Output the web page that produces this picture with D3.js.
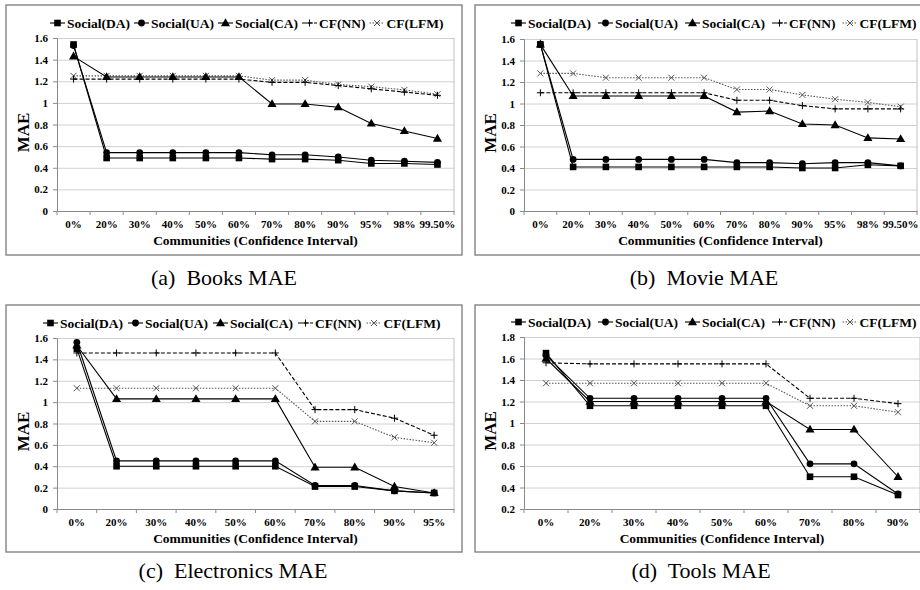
<!DOCTYPE html>
<html>
<head>
<meta charset="utf-8">
<script src="https://cdn.jsdelivr.net/npm/d3@7"></script>
<style>
  html, body { margin: 0; padding: 0; background: #fff; overflow: hidden; }
  svg { display: block; font-family: "Liberation Serif", "Times New Roman", serif; }
</style>
</head>
<body>
<svg id="chart" width="920" height="590"></svg>
<script>
// MAE per community confidence interval, four datasets, five methods each.

const SERIES = ['Social(DA)', 'Social(UA)', 'Social(CA)', 'CF(NN)', 'CF(LFM)'];

const catsBooks = ['0%','20%','30%','40%','50%','60%','70%','80%','90%','95%','98%','99.50%'];
const booksDA  = [1.54,0.49,0.49,0.49,0.49,0.49,0.48,0.48,0.47,0.44,0.44,0.43];
const booksUA  = [1.53,0.54,0.54,0.54,0.54,0.54,0.52,0.52,0.50,0.47,0.46,0.45];
const booksCA  = [1.43,1.24,1.24,1.24,1.24,1.24,0.99,0.99,0.96,0.81,0.74,0.67];
const booksNN  = [1.22,1.22,1.22,1.22,1.22,1.22,1.19,1.19,1.16,1.13,1.10,1.07];
const booksLFM = [1.25,1.25,1.25,1.25,1.25,1.25,1.21,1.21,1.17,1.15,1.12,1.08];

const catsMovie = ['0%','20%','30%','40%','50%','60%','70%','80%','90%','95%','98%','99.50%'];
const movieDA  = [1.55,0.41,0.41,0.41,0.41,0.41,0.41,0.41,0.40,0.40,0.43,0.42];
const movieUA  = [1.55,0.48,0.48,0.48,0.48,0.48,0.45,0.45,0.44,0.45,0.45,0.42];
const movieCA  = [1.55,1.07,1.07,1.07,1.07,1.07,0.92,0.93,0.81,0.80,0.68,0.67];
const movieNN  = [1.10,1.10,1.10,1.10,1.10,1.10,1.03,1.03,0.98,0.95,0.95,0.95];
const movieLFM = [1.28,1.28,1.24,1.24,1.24,1.24,1.13,1.13,1.08,1.04,1.01,0.97];

const catsElec = ['0%','20%','30%','40%','50%','60%','70%','80%','90%','95%'];
const elecDA  = [1.50,0.40,0.40,0.40,0.40,0.40,0.21,0.21,0.17,0.15];
const elecUA  = [1.56,0.45,0.45,0.45,0.45,0.45,0.22,0.22,0.17,0.15];
const elecCA  = [1.53,1.03,1.03,1.03,1.03,1.03,0.39,0.39,0.21,0.15];
const elecNN  = [1.46,1.46,1.46,1.46,1.46,1.46,0.93,0.93,0.85,0.69];
const elecLFM = [1.13,1.13,1.13,1.13,1.13,1.13,0.82,0.82,0.67,0.62];

const catsTools = ['0%','20%','30%','40%','50%','60%','70%','80%','90%'];
const toolsDA  = [1.65,1.16,1.16,1.16,1.16,1.16,0.50,0.50,0.33];
const toolsUA  = [1.63,1.23,1.23,1.23,1.23,1.23,0.62,0.62,0.34];
const toolsCA  = [1.60,1.20,1.20,1.20,1.20,1.20,0.94,0.94,0.50];
const toolsNN  = [1.56,1.55,1.55,1.55,1.55,1.55,1.23,1.23,1.18];
const toolsLFM = [1.37,1.37,1.37,1.37,1.37,1.37,1.16,1.16,1.10];

const yTicks16 = [0, 0.2, 0.4, 0.6, 0.8, 1, 1.2, 1.4, 1.6];
const yTicks18 = [0.2, 0.4, 0.6, 0.8, 1, 1.2, 1.4, 1.6, 1.8];

const captions = ['(a)  Books MAE', '(b)  Movie MAE', '(c)  Electronics MAE', '(d)  Tools MAE'];

// ── styles per series ─────────────────────────────────────────
const STYLE = [
  { stroke: '#000', dash: null,  marker: 'square'   },
  { stroke: '#000', dash: null,  marker: 'circle'   },
  { stroke: '#000', dash: null,  marker: 'triangle' },
  { stroke: '#000', dash: '4,2', marker: 'plus'     },
  { stroke: '#555', dash: '1.5,1.5', marker: 'cross' }
];

// ── panel layout ──────────────────────────────────────────────
const panels = [
  { cats: catsBooks, series: [booksDA, booksUA, booksCA, booksNN, booksLFM], yTicks: yTicks16, caption: captions[0],
    box: [6, 5, 462, 255], plot: [57, 38, 454, 211], legend: [50, 23, 4], capX: 224, capY: 285 },
  { cats: catsMovie, series: [movieDA, movieUA, movieCA, movieNN, movieLFM], yTicks: yTicks16, caption: captions[1],
    box: [475, 5, 930, 255], plot: [524, 39, 917, 211], legend: [511, 23, 7], capX: 704, capY: 285 },
  { cats: catsElec, series: [elecDA, elecUA, elecCA, elecNN, elecLFM], yTicks: yTicks16, caption: captions[2],
    box: [6, 305, 462, 552], plot: [57, 338, 454, 509], legend: [43, 323, 5], capX: 233, capY: 578 },
  { cats: catsTools, series: [toolsDA, toolsUA, toolsCA, toolsNN, toolsLFM], yTicks: yTicks18, caption: captions[3],
    box: [475, 305, 930, 552], plot: [524, 337, 920, 509], legend: [511, 322, 7], capX: 701, capY: 578 }
];

const FONT = '"Liberation Serif", "Times New Roman", serif';
const svg = d3.select('#chart').attr('font-family', FONT);
const fmt = v => String(+v.toFixed(1));

function drawMarker(g, type, x, y, color) {
  if (type === 'square') {
    g.append('rect').attr('x', x - 3.3).attr('y', y - 3.3).attr('width', 6.6).attr('height', 6.6).attr('fill', color);
  } else if (type === 'circle') {
    g.append('circle').attr('cx', x).attr('cy', y).attr('r', 3.4).attr('fill', color);
  } else if (type === 'triangle') {
    g.append('path').attr('d', d3.symbol(d3.symbolTriangle, 36)()).attr('transform', `translate(${x},${y + 0.5})`).attr('fill', color);
  } else if (type === 'plus') {
    g.append('path').attr('d', `M${x - 3.5},${y}H${x + 3.5}M${x},${y - 3.5}V${y + 3.5}`)
      .attr('stroke', color).attr('stroke-width', 1);
  } else if (type === 'cross') {
    g.append('path').attr('d', `M${x - 3},${y - 3}L${x + 3},${y + 3}M${x - 3},${y + 3}L${x + 3},${y - 3}`)
      .attr('stroke', color).attr('stroke-width', 1);
  }
}

panels.forEach(p => {
  const [x0, y0, x1, y1] = p.plot;
  const g = svg.append('g');

  // Outer frame
  g.append('rect')
    .attr('x', p.box[0]).attr('y', p.box[1])
    .attr('width', p.box[2] - p.box[0]).attr('height', p.box[3] - p.box[1])
    .attr('fill', 'none').attr('stroke', '#7a7a7a').attr('stroke-width', 1.3);

  const x = d3.scaleBand().domain(p.cats).range([x0, x1]).padding(0);
  const y = d3.scaleLinear().domain([p.yTicks[0], p.yTicks[p.yTicks.length - 1]]).range([y1, y0]);

  // Grid lines
  g.append('g').attr('transform', `translate(${x0},0)`)
    .call(d3.axisLeft(y).tickValues(p.yTicks.slice(1)).tickSize(-(x1 - x0)).tickFormat(''))
    .call(a => { a.select('.domain').remove(); a.selectAll('line').attr('stroke', '#d0d0d0'); });

  // Plot frame (right side)
  g.append('line').attr('x1', x1).attr('x2', x1).attr('y1', y0).attr('y2', y1).attr('stroke', '#c0c0c0');

  // Y axis
  g.append('g').attr('transform', `translate(${x0},0)`)
    .call(d3.axisLeft(y).tickValues(p.yTicks).tickSize(4).tickPadding(5).tickFormat(fmt))
    .call(a => {
      a.attr('font-family', FONT);
      a.select('.domain').attr('stroke', '#8a8a8a');
      a.selectAll('line').attr('stroke', '#8a8a8a');
      a.selectAll('text').attr('font-size', 11).attr('font-weight', 'bold').attr('fill', '#000');
    });

  // X axis: labels centred in each band, ticks at band edges
  g.append('g').attr('transform', `translate(0,${y1})`)
    .call(d3.axisBottom(x).tickSize(0).tickPadding(9))
    .call(a => {
      a.attr('font-family', FONT);
      a.select('.domain').attr('stroke', '#8a8a8a');
      a.selectAll('text').attr('font-size', 11).attr('font-weight', 'bold').attr('fill', '#000');
    });
  g.append('g').selectAll('line').data(p.cats.concat([null])).enter().append('line')
    .attr('x1', (d, i) => x0 + i * x.step()).attr('x2', (d, i) => x0 + i * x.step())
    .attr('y1', y1).attr('y2', y1 + 4).attr('stroke', '#8a8a8a');

  // Axis titles
  g.append('text').attr('x', (x0 + x1) / 2).attr('y', y1 + 34)
    .attr('text-anchor', 'middle').attr('font-size', 13.5).attr('font-weight', 'bold')
    .text('Communities (Confidence Interval)');
  g.append('text').attr('transform', `translate(${x0 - 28},${(y0 + y1) / 2 + 8}) rotate(-90)`)
    .attr('text-anchor', 'middle').attr('font-size', 17).attr('font-weight', 'bold')
    .text('MAE');

  // Series lines, drawn from last to first so DA sits on top
  const line = d3.line().x((d, i) => x(p.cats[i]) + x.bandwidth() / 2).y(d => y(d));
  for (let s = p.series.length - 1; s >= 0; s--) {
    const st = STYLE[s], vals = p.series[s];
    const sg = g.append('g');
    sg.append('path').datum(vals)
      .attr('d', line).attr('fill', 'none')
      .attr('stroke', st.stroke).attr('stroke-width', 1.1)
      .attr('stroke-dasharray', st.dash);
    vals.forEach((v, i) => drawMarker(sg, st.marker, x(p.cats[i]) + x.bandwidth() / 2, y(v), st.stroke));
  }

  // Legend
  const [lx, ly, gap] = p.legend;
  let cx = lx;
  SERIES.forEach((name, s) => {
    const st = STYLE[s];
    const lg = g.append('g');
    lg.append('line').attr('x1', cx).attr('x2', cx + 15).attr('y1', ly).attr('y2', ly)
      .attr('stroke', st.stroke).attr('stroke-width', 1.1).attr('stroke-dasharray', st.dash);
    drawMarker(lg, st.marker, cx + 7.5, ly, st.stroke);
    const t = lg.append('text').attr('x', cx + 17).attr('y', ly + 4.8)
      .attr('font-size', 13.5).attr('font-weight', 'bold').text(name);
    cx += 17 + t.node().getComputedTextLength() + gap;
  });

  // Caption
  svg.append('text').attr('x', p.capX).attr('y', p.capY)
    .attr('text-anchor', 'middle').attr('font-size', 22)
    .style('white-space', 'pre').attr('xml:space', 'preserve')
    .text(p.caption);
});
</script>
</body>
</html>
